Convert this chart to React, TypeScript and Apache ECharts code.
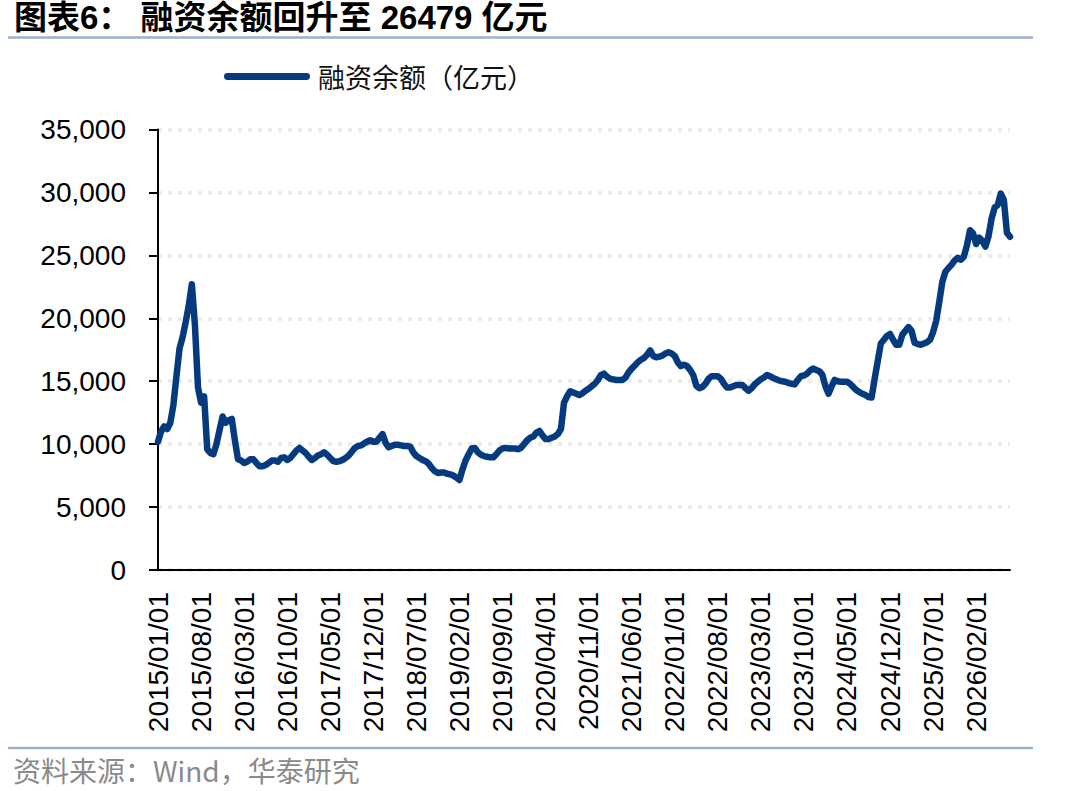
import React, { useEffect, useRef } from "react";
import * as echarts from "echarts";

// 融资余额（亿元）, half-monthly readings (1st and 16th of each month)
const v2015 = [10200, 11000, 11400, 11200, 11700, 13100, 15400, 17600, 18500, 19700, 21000, 22700, 19500, 14500, 13300, 13800, 9600, 9300, 9200, 10000, 11100, 12200, 11700, 11900];
const v2016 = [12000, 10300, 8800, 8700, 8500, 8600, 8800, 8800, 8500, 8250, 8250, 8350, 8500, 8700, 8700, 8600, 8900, 8950, 8750, 8900, 9200, 9500, 9700, 9500];
const v2017 = [9300, 9000, 8750, 8900, 9100, 9200, 9350, 9150, 8900, 8650, 8600, 8650, 8750, 8900, 9100, 9400, 9700, 9850, 9900, 10050, 10200, 10300, 10200, 10200];
const v2018 = [10500, 10800, 10100, 9750, 9850, 9950, 9950, 9900, 9850, 9850, 9800, 9350, 9050, 8900, 8750, 8650, 8450, 8100, 7850, 7700, 7750, 7750, 7650, 7600];
const v2019 = [7500, 7350, 7150, 8000, 8700, 9200, 9650, 9700, 9350, 9150, 9050, 9000, 8950, 8950, 9200, 9500, 9650, 9700, 9650, 9650, 9650, 9600, 9700, 10000];
const v2020 = [10300, 10500, 10600, 10900, 11050, 10700, 10400, 10400, 10500, 10600, 10800, 11200, 13300, 13800, 14200, 14100, 14000, 13900, 14050, 14250, 14400, 14600, 14800, 15100];
const v2021 = [15500, 15600, 15350, 15200, 15150, 15100, 15100, 15100, 15300, 15700, 16000, 16250, 16500, 16700, 16850, 17100, 17450, 17000, 16900, 16950, 17050, 17200, 17300, 17200];
const v2022 = [17000, 16500, 16200, 16300, 16200, 15900, 15500, 14650, 14450, 14550, 14800, 15200, 15400, 15400, 15400, 15200, 14800, 14500, 14500, 14600, 14700, 14700, 14700, 14450];
const v2023 = [14250, 14450, 14750, 14950, 15150, 15300, 15500, 15400, 15250, 15150, 15050, 15000, 14950, 14850, 14800, 14750, 15100, 15400, 15450, 15600, 15850, 16000, 15900, 15800];
const v2024 = [15500, 14600, 14000, 14600, 15100, 15000, 14950, 14950, 14950, 14800, 14550, 14300, 14150, 14000, 13900, 13750, 13700, 15200, 16600, 18000, 18300, 18600, 18750, 18300];
const v2025 = [17900, 17900, 18700, 19000, 19300, 19000, 18050, 17950, 17900, 18000, 18100, 18300, 18900, 19800, 21300, 22900, 23700, 24000, 24250, 24600, 24800, 24650, 24900, 25800];
const v2026 = [27000, 26750, 25900, 26400, 26150, 25700, 26500, 27900, 28800, 29000, 29900, 29400, 26800, 26479];

const values = [
  ...v2015, ...v2016, ...v2017, ...v2018, ...v2019, ...v2020,
  ...v2021, ...v2022, ...v2023, ...v2024, ...v2025, ...v2026,
];

// categories: 2015/01/01, 2015/01/16, ... one per half month
const years = [2015, 2016, 2017, 2018, 2019, 2020, 2021, 2022, 2023, 2024, 2025, 2026];
const days = ["01", "16"];
const categories: string[] = [];
years.forEach((y) => {
  for (let m = 1; m <= 12; m++) {
    days.forEach((d) => {
      categories.push(`${y}/${String(m).padStart(2, "0")}/${d}`);
    });
  }
});
categories.length = values.length;

const yTicks = [0, 5000, 10000, 15000, 20000, 25000, 30000, 35000];

const seriesName = "融资余额（亿元）";
const titleText = "图表6： 融资余额回升至 26479 亿元";
const sourceText = "资料来源：Wind，华泰研究";

const LATIN = '"Liberation Sans", Arial, "Noto Sans CJK SC", sans-serif';
const CJK = '"Noto Sans CJK SC", "Liberation Sans", sans-serif';
const NAVY = "#053B7E";

function fmt(v: number) {
  return String(v).replace(/\B(?=(\d{3})+(?!\d))/g, ",");
}

export default function App() {
  const ref = useRef<HTMLDivElement>(null);
  useEffect(() => {
    if (!ref.current) return;
    const chart = echarts.init(ref.current, undefined, { renderer: "svg" });
    chart.setOption({
      animation: false,
      backgroundColor: "#ffffff",
      title: {
        text: titleText,
        left: 14,
        top: 1,
        padding: 0,
        textStyle: { fontSize: 33, fontWeight: "bold", color: "#000", fontFamily: LATIN },
      },
      legend: {
        data: [seriesName],
        left: 224,
        top: 63,
        padding: 0,
        itemWidth: 86,
        itemHeight: 8,
        icon: "path://M4,0 L96,0 A4,4 0 0 1 96,8 L4,8 A4,4 0 0 1 4,0 Z",
        selectedMode: false,
        textStyle: { fontSize: 27, color: "#111", fontFamily: CJK, padding: [0, 0, 0, 3] },
      },
      grid: { left: 158, right: 70, top: 129.5, bottom: 221, containLabel: false },
      xAxis: {
        type: "category",
        data: categories,
        boundaryGap: false,
        axisLine: { show: true, lineStyle: { color: "#000", width: 2 } },
        axisTick: { show: false },
        axisLabel: {
          interval: 13,
          rotate: 90,
          margin: 22,
          fontSize: 28,
          color: "#000",
          fontFamily: LATIN,
        },
        splitLine: { show: false },
      },
      yAxis: {
        type: "value",
        min: yTicks[0],
        max: yTicks[yTicks.length - 1],
        interval: 5000,
        axisLine: { show: true, lineStyle: { color: "#000", width: 2 } },
        axisTick: { show: true, length: 9, lineStyle: { color: "#000", width: 2 } },
        axisLabel: {
          margin: 32,
          fontSize: 28,
          color: "#000",
          fontFamily: LATIN,
          formatter: (v: number) => fmt(v),
        },
        splitLine: {
          show: true,
          lineStyle: { color: "#ECECEC", width: 4, type: [4, 6] },
        },
      },
      series: [
        {
          name: seriesName,
          type: "line",
          data: values,
          showSymbol: false,
          symbol: "none",
          smooth: false,
          lineStyle: { color: NAVY, width: 6.5, cap: "round", join: "round" },
          itemStyle: { color: NAVY },
        },
      ],
      graphic: [
        {
          type: "line",
          shape: { x1: 8, y1: 37.5, x2: 1033, y2: 37.5 },
          style: { stroke: "#9DB1C9", lineWidth: 2.5 },
        },
        {
          type: "line",
          shape: { x1: 8, y1: 748, x2: 1033, y2: 748 },
          style: { stroke: "#9DB1C9", lineWidth: 2.5 },
        },
        {
          type: "text",
          left: 13,
          top: 756,
          style: {
            text: sourceText,
            fontSize: 28,
            fill: "#8A8A8A",
            fontFamily: CJK,
          },
        },
      ],
    });
    return () => chart.dispose();
  }, []);
  return (
    <div
      ref={ref}
      style={{ position: "fixed", left: 0, top: 0, width: 1080, height: 791, background: "#fff" }}
    />
  );
}
